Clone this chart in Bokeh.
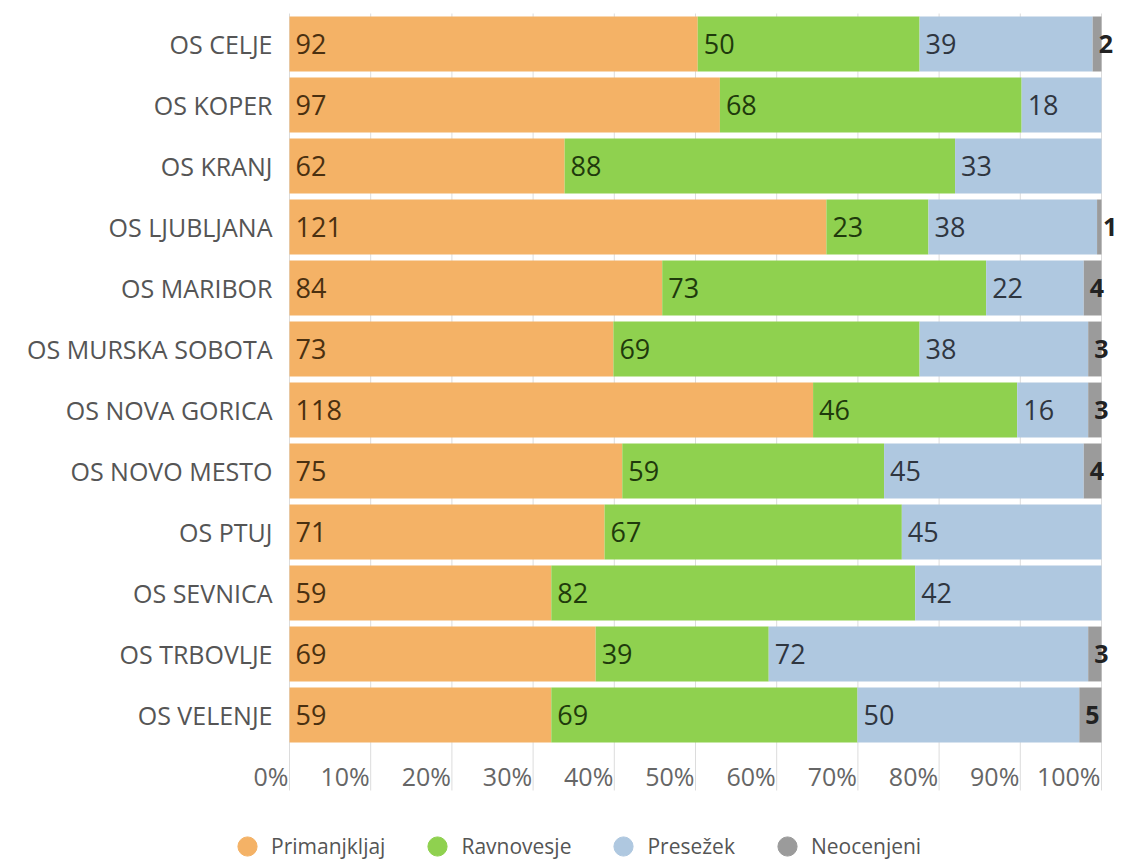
from bokeh.plotting import figure
from bokeh.models import ColumnDataSource, Range1d, Legend, LegendItem
from bokeh.core.properties import value
from bokeh.embed import file_html
from bokeh.resources import INLINE

categories = ["OS CELJE", "OS KOPER", "OS KRANJ", "OS LJUBLJANA", "OS MARIBOR",
              "OS MURSKA SOBOTA", "OS NOVA GORICA", "OS NOVO MESTO", "OS PTUJ",
              "OS SEVNICA", "OS TRBOVLJE", "OS VELENJE"]
primanjkljaj = [92, 97, 62, 121, 84, 73, 118, 75, 71, 59, 69, 59]
ravnovesje = [50, 68, 88, 23, 73, 69, 46, 59, 67, 82, 39, 69]
presezek = [39, 18, 33, 38, 22, 38, 16, 45, 45, 42, 72, 50]
neocenjeni = [2, 0, 0, 1, 4, 3, 3, 4, 0, 0, 3, 5]
series_names = ["Primanjkljaj", "Ravnovesje", "Presežek", "Neocenjeni"]
tick_values = [0.0, 0.1, 0.2, 0.3, 0.4, 0.5, 0.6, 0.7, 0.8, 0.9, 1.0]
tick_labels = ["0%", "10%", "20%", "30%", "40%", "50%", "60%", "70%", "80%", "90%", "100%"]

colors = ["#F4B266", "#8FD14F", "#AFC8E0", "#9B9B9B"]
text_colors = ["#4a3010", "#1f3a0c", "#2f3640", "#222222"]
FONT = "Open Sans"

W, H = 1120, 862
LEFT_PX, PLOT_PX = 289, 812          # pixel where 0% sits, px for 0..100%
TOP_PX, ROW_PX = 13, 61              # top of first row band, px per row
n = len(categories)

series = [primanjkljaj, ravnovesje, presezek, neocenjeni]
totals = [sum(v) for v in zip(*series)]
ypos = [n - 1 - k for k in range(n)]

x0 = -LEFT_PX / PLOT_PX
x1 = (W - LEFT_PX) / PLOT_PX
y1 = (n - 0.5) + TOP_PX / ROW_PX
y0 = (n - 0.5) - (H - TOP_PX) / ROW_PX
bar_bottom = -0.5

p = figure(width=W, height=H, x_range=Range1d(x0, x1), y_range=Range1d(y0, y1),
           output_backend="svg", toolbar_location=None,
           x_axis_location=None, y_axis_location=None,
           min_border_left=0, min_border_right=0, min_border_top=0, min_border_bottom=0)
p.outline_line_color = None
p.grid.visible = False

# vertical grid lines (extend below the bars through the tick-label band)
grid_bottom = bar_bottom - 45 / ROW_PX
p.segment(x0=tick_values, x1=tick_values, y0=[grid_bottom] * len(tick_values),
          y1=[n - 0.5] * len(tick_values), line_color="#dcdcdc", line_width=1)

starts = [0.0] * n
for i, vals in enumerate(series):
    left = starts[:]
    right = [s + v / t for s, v, t in zip(starts, vals, totals)]
    src = ColumnDataSource(dict(y=ypos, left=left, right=right))
    p.hbar(y="y", left="left", right="right", height=0.9, source=src,
           fill_color=colors[i], line_color=None)
    idx = [k for k, v in enumerate(vals) if v > 0]
    lsrc = ColumnDataSource(dict(y=[ypos[k] for k in idx],
                                 x=[left[k] for k in idx],
                                 t=[str(vals[k]) for k in idx]))
    p.text(x="x", y="y", text="t", source=lsrc, x_offset=6,
           text_baseline="middle", text_align="left",
           text_font=value(FONT), text_font_size="25px" if i == 3 else "27px",
           text_color=text_colors[i],
           text_font_style="bold" if i == 3 else "normal")
    starts = right

# category labels
p.text(x=[0] * n, y=ypos, text=categories, x_offset=-17,
       text_align="right", text_baseline="middle",
       text_font=value(FONT), text_font_size="25px", text_color="#555555")

# percent tick labels
p.text(x=tick_values, y=[bar_bottom - 30 / ROW_PX] * len(tick_values), text=tick_labels,
       x_offset=-1, text_align="right", text_baseline="middle",
       text_font=value(FONT), text_font_size="25px", text_color="#666666")

# legend (marker renderers placed outside the visible range, used only for the legend)
leg_items = []
for name, c in zip(series_names, colors):
    r = p.scatter(x=[x0 - 1], y=[y0 - 1], marker="circle", size=19,
                  fill_color=c, line_color=c)
    leg_items.append(LegendItem(label=name, renderers=[r]))
legend = Legend(items=leg_items, orientation="horizontal", location=(223, -8),
                border_line_color=None, background_fill_alpha=0,
                label_text_font=FONT, label_text_font_size="21px",
                label_text_color="#555555", glyph_width=48, glyph_height=48,
                label_standoff=-5, spacing=28, padding=0, margin=0)
p.add_layout(legend, "center")

open("out.html", "w").write(file_html(p, INLINE))
